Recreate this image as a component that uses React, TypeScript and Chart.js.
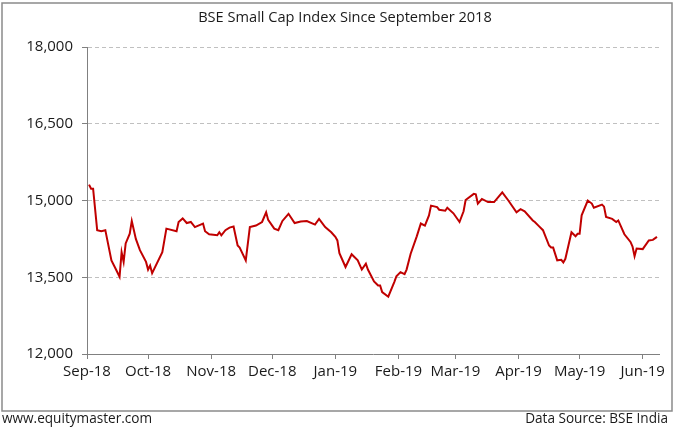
import React, { useEffect, useRef } from "react";
import { Chart, registerables } from "chart.js";

Chart.register(...registerables);

const chartTitle = "BSE Small Cap Index Since September 2018";
const footerLeft = "www.equitymaster.com";
const footerRight = "Data Source: BSE India";

// x axis: days since 1 Sep 2018
const monthLabels = ["Sep-18", "Oct-18", "Nov-18", "Dec-18", "Jan-19", "Feb-19", "Mar-19", "Apr-19", "May-19", "Jun-19"];
const monthStartDays = [0, 30, 61, 91, 122, 153, 181, 212, 242, 273];
const lastAxisDay = 281;

const yTicks = [12000, 13500, 15000, 16500, 18000];

// BSE Small Cap index readings (day offset from 1 Sep 2018, index value)
const dayIndex = [
  1, 2, 3, 5, 7, 9, 12, 14, 16, 17, 18, 19, 21, 22, 24, 26, 29, 30, 31, 32,
  37, 39, 44, 45, 47, 49, 51, 53, 57, 58, 60, 64, 65, 66, 68, 70, 72, 74, 75, 78,
  80, 83, 86, 88, 89, 92, 94, 96, 99, 102, 105, 108, 112, 114, 117, 120, 122, 123, 124, 127,
  130, 133, 135, 137, 138, 141, 143, 144, 145, 148, 151, 152, 154, 156, 157, 159, 162, 164, 166, 168,
  169, 172, 173, 176, 177, 180, 183, 185, 186, 190, 191, 192, 194, 197, 200, 204, 207, 211, 213, 215,
  219, 220, 222, 224, 227, 228, 229, 231, 233, 234, 235, 238, 240, 241, 242, 243, 246, 248, 249, 253,
  254, 255, 258, 260, 261, 264, 267, 268, 269, 270, 273, 276, 278, 280,
];
const indexValues = [
  15310, 15230, 15230, 14420, 14400, 14420, 13830, 13670, 13510, 13990, 13800, 14160, 14350, 14600, 14250, 14030, 13800, 13650, 13730, 13580,
  13990, 14450, 14400, 14580, 14650, 14560, 14580, 14480, 14550, 14400, 14340, 14320, 14380, 14320, 14420, 14470, 14490, 14120, 14080, 13830,
  14480, 14510, 14580, 14770, 14620, 14450, 14420, 14600, 14740, 14560, 14590, 14600, 14530, 14640, 14480, 14380, 14290, 14220, 13970, 13700,
  13950, 13830, 13650, 13766, 13650, 13420, 13340, 13340, 13210, 13120, 13410, 13520, 13600, 13560, 13650, 13960, 14300, 14550, 14510, 14710,
  14900, 14870, 14820, 14800, 14860, 14750, 14580, 14790, 15010, 15130, 15120, 14940, 15030, 14970, 14970, 15160, 15000, 14770, 14830, 14790,
  14610, 14580, 14500, 14420, 14120, 14080, 14080, 13830, 13840, 13790, 13860, 14380, 14300, 14350, 14350, 14710, 15000, 14940, 14860, 14920,
  14880, 14680, 14640, 14580, 14610, 14340, 14190, 14100, 13910, 14060, 14050, 14220, 14230, 14290,
];

const FONT = "'Open Sans', 'Liberation Sans', sans-serif";
const TEXT = "#1a1a1a";
const AXIS = "#808080";

const decorPlugin = {
  id: "decor",
  beforeDraw(chart: any) {
    const ctx = chart.ctx;
    ctx.save();
    ctx.fillStyle = "#ffffff";
    ctx.fillRect(0, 0, chart.width, chart.height);
    ctx.restore();
  },
  afterDraw(chart: any) {
    const ctx = chart.ctx;
    ctx.save();
    ctx.strokeStyle = "#8a8a8a";
    ctx.lineWidth = 1.5;
    ctx.strokeRect(2, 3, 670, 408);
    ctx.fillStyle = TEXT;
    ctx.textBaseline = "middle";
    ctx.font = `14.6px ${FONT}`;
    ctx.textAlign = "center";
    ctx.fillText(chartTitle, 345, 18);
    ctx.font = `13.6px ${FONT}`;
    ctx.textAlign = "left";
    ctx.fillText(footerLeft, 2, 419);
    ctx.textAlign = "right";
    ctx.fillText(footerRight, 668, 419);
    ctx.restore();
  },
};

export default function App() {
  const canvasRef = useRef<HTMLCanvasElement | null>(null);

  useEffect(() => {
    document.body.style.margin = "0";
    const canvas = canvasRef.current;
    if (!canvas) return;
    const chart = new Chart(canvas, {
      type: "line",
      data: {
        datasets: [
          {
            data: dayIndex.map((d, i) => ({ x: d, y: indexValues[i] })),
            borderColor: "#C00000",
            borderWidth: 2,
            pointRadius: 0,
            tension: 0,
            fill: false,
          },
        ],
      },
      options: {
        responsive: false,
        animation: false,
        devicePixelRatio: 1,
        layout: { padding: { top: 47, right: 16, left: 0, bottom: 0 } },
        plugins: {
          legend: { display: false },
          title: { display: false },
          tooltip: { enabled: false },
        },
        scales: {
          x: {
            type: "linear",
            min: 0,
            max: lastAxisDay,
            afterBuildTicks: (s: any) => {
              s.ticks = monthStartDays.map((v) => ({ value: v }));
            },
            afterFit: (s: any) => {
              s.height = 75;
            },
            ticks: {
              autoSkip: false,
              maxRotation: 0,
              padding: 4,
              color: TEXT,
              font: { family: FONT, size: 15 },
              callback: (v: any) => {
                const i = monthStartDays.indexOf(Number(v));
                return i >= 0 ? monthLabels[i] : "";
              },
            },
            grid: {
              drawOnChartArea: false,
              drawTicks: true,
              tickLength: 5,
              color: AXIS,
              tickColor: AXIS,
            },
            border: { color: AXIS, width: 1 },
          },
          y: {
            min: 12000,
            max: 18000,
            afterBuildTicks: (s: any) => {
              s.ticks = yTicks.map((v) => ({ value: v }));
            },
            afterFit: (s: any) => {
              s.width = 87;
            },
            ticks: {
              padding: 9,
              color: TEXT,
              font: { family: FONT, size: 15 },
              callback: (v: any) => Number(v).toLocaleString("en-US"),
            },
            grid: {
              color: "#C0C0C0",
              lineWidth: 1,
              tickLength: 5,
              tickColor: AXIS,
              tickBorderDash: [],
            },
            border: { color: AXIS, width: 1, dash: [4, 3] },
          },
        },
      },
      plugins: [decorPlugin],
    });
    return () => chart.destroy();
  }, []);

  return (
    <div style={{ width: 675, height: 429 }}>
      <canvas ref={canvasRef} width={675} height={429} style={{ display: "block" }} />
    </div>
  );
}
